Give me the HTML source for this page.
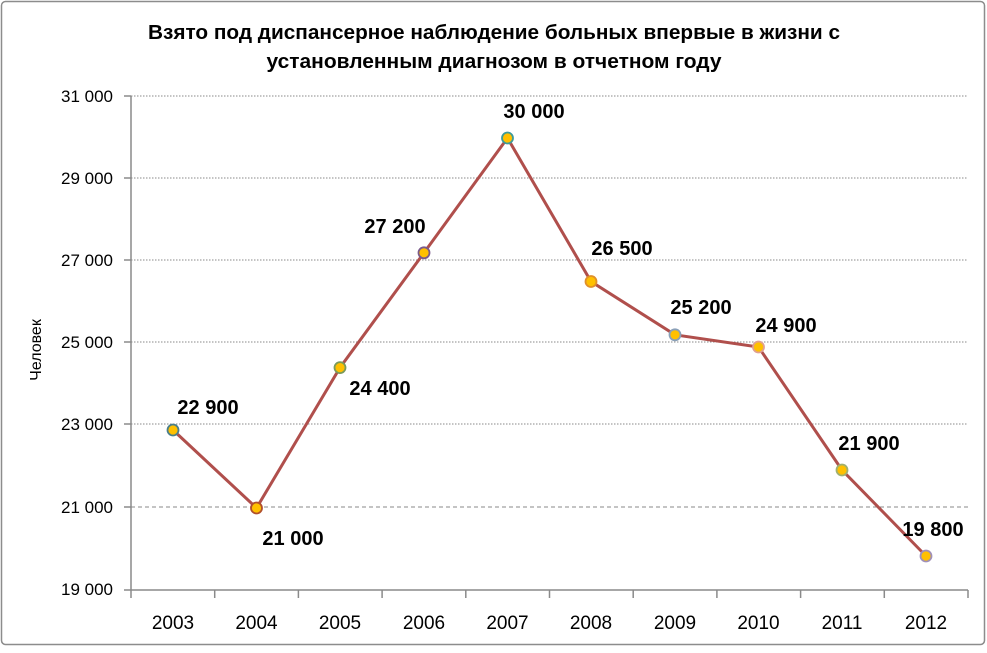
<!DOCTYPE html>
<html><head><meta charset="utf-8"><style>
body{margin:0;background:#fff}
svg text{font-family:"Liberation Sans",sans-serif}
</style></head><body>
<svg width="987" height="648" viewBox="0 0 987 648" xmlns="http://www.w3.org/2000/svg">
<rect x="1.5" y="1.5" width="983" height="643" rx="4" fill="#fff" stroke="#8c8c8c" stroke-width="1.5"/>
<text x="494" y="39" text-anchor="middle" font-size="20" font-weight="bold" textLength="692" lengthAdjust="spacingAndGlyphs">Взято под диспансерное наблюдение больных впервые в жизни с</text>
<text x="494" y="68" text-anchor="middle" font-size="20" font-weight="bold" textLength="455" lengthAdjust="spacingAndGlyphs">установленным диагнозом в отчетном году</text>
<g stroke="#8a8a8a" stroke-width="1" stroke-dasharray="1.5,1.5">
<line x1="131" y1="96" x2="968" y2="96"/><line x1="131" y1="178" x2="968" y2="178"/>
<line x1="131" y1="260" x2="968" y2="260"/><line x1="131" y1="342" x2="968" y2="342"/>
<line x1="131" y1="424" x2="968" y2="424"/><line x1="131" y1="507" x2="968" y2="507" stroke-dasharray="4,3"/>
</g>
<g stroke="#8a8a8a" stroke-width="1.5">
<line x1="131" y1="96" x2="131" y2="590"/><line x1="124" y1="590" x2="968" y2="590"/>
<line x1="124" y1="96" x2="131" y2="96"/><line x1="124" y1="178" x2="131" y2="178"/><line x1="124" y1="260" x2="131" y2="260"/><line x1="124" y1="342" x2="131" y2="342"/><line x1="124" y1="424" x2="131" y2="424"/><line x1="124" y1="507" x2="131" y2="507"/>
<line x1="131" y1="590" x2="131" y2="598"/><line x1="214.7" y1="590" x2="214.7" y2="598"/><line x1="298.4" y1="590" x2="298.4" y2="598"/><line x1="382.1" y1="590" x2="382.1" y2="598"/><line x1="465.8" y1="590" x2="465.8" y2="598"/><line x1="549.5" y1="590" x2="549.5" y2="598"/><line x1="633.2" y1="590" x2="633.2" y2="598"/><line x1="716.9" y1="590" x2="716.9" y2="598"/><line x1="800.6" y1="590" x2="800.6" y2="598"/><line x1="884.3" y1="590" x2="884.3" y2="598"/><line x1="968" y1="590" x2="968" y2="598"/>
</g>
<g font-size="17" text-anchor="end">
<text x="113" y="102">31 000</text><text x="113" y="184">29 000</text><text x="113" y="266">27 000</text><text x="113" y="348">25 000</text><text x="113" y="430">23 000</text><text x="113" y="513">21 000</text><text x="113" y="595">19 000</text>
</g>
<text transform="translate(41,350) rotate(-90)" text-anchor="middle" font-size="16">Человек</text>
<g font-size="19" text-anchor="middle">
<text x="173" y="629">2003</text><text x="256.5" y="629">2004</text><text x="340" y="629">2005</text><text x="424" y="629">2006</text><text x="507.5" y="629">2007</text><text x="591" y="629">2008</text><text x="675" y="629">2009</text><text x="758.5" y="629">2010</text><text x="842" y="629">2011</text><text x="926" y="629">2012</text>
</g>
<polyline fill="none" stroke="#b04f4c" stroke-width="3" points="173,430 256.5,508 340,367.6 424,252.8 507.5,138 591,281.5 675,334.8 758.5,347 842,470 926,556"/>
<g fill="#ffc000" stroke-width="1.8">
<circle cx="173" cy="430" r="5.5" stroke="#4a7e8a"/><circle cx="256.5" cy="508" r="5.5" stroke="#b04f2c"/><circle cx="340" cy="367.6" r="5.5" stroke="#7a9a5a"/><circle cx="424" cy="252.8" r="5.5" stroke="#7a5a8a"/><circle cx="507.5" cy="138" r="5.5" stroke="#3d9a9a"/><circle cx="591" cy="281.5" r="5.5" stroke="#e0902a"/><circle cx="675" cy="334.8" r="5.5" stroke="#8aa0b8"/><circle cx="758.5" cy="347" r="5.5" stroke="#e0a090"/><circle cx="842" cy="470" r="5.5" stroke="#a0b070"/><circle cx="926" cy="556" r="5.5" stroke="#a090b8"/>
</g>
<g font-size="20" font-weight="bold" text-anchor="middle">
<text x="208" y="414">22 900</text><text x="293" y="545">21 000</text><text x="380" y="395">24 400</text><text x="395" y="233">27 200</text><text x="534" y="118">30 000</text><text x="622" y="255">26 500</text><text x="701" y="314">25 200</text><text x="786" y="332">24 900</text><text x="869" y="450">21 900</text><text x="933" y="536">19 800</text>
</g>
</svg>
</body></html>
